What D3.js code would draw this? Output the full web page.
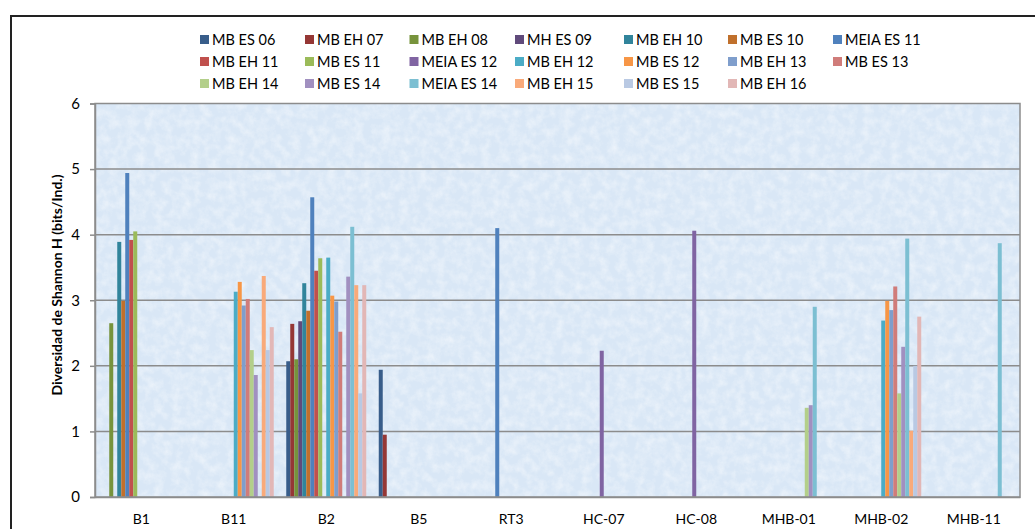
<!DOCTYPE html>
<html><head><meta charset="utf-8">
<script src="https://cdn.jsdelivr.net/npm/d3@7"></script>
<style>
html,body{margin:0;padding:0;background:#fff;}
svg{display:block;font-family:Lato,"Open Sans",sans-serif;}
</style></head>
<body><svg id="c" width="1035" height="529"></svg>
<script>
const categories = ["B1","B11","B2","B5","RT3","HC-07","HC-08","MHB-01","MHB-02","MHB-11"];
const seriesNames = ["MB ES 06","MB EH 07","MB EH 08","MH ES 09","MB EH 10","MB ES 10","MEIA ES 11",
  "MB EH 11","MB ES 11","MEIA ES 12","MB EH 12","MB ES 12","MB EH 13","MB ES 13",
  "MB EH 14","MB ES 14","MEIA ES 14","MB EH 15","MB ES 15","MB EH 16"];
const seriesColors = ["#385D8A","#953735","#77933C","#604A7B","#31849B","#C0702C","#4F81BD",
  "#C0504D","#9BBB59","#8064A2","#4BACC6","#F79646","#7F9ECC","#D07C7A",
  "#B3CF8A","#A190C0","#7CBFD2","#F9AA7A","#B9C9E3","#E2B7B6"];
const yTicks = [0,1,2,3,4,5,6];

//            B1    B11   B2    B5    RT3   HC-07 HC-08 MHB-01 MHB-02 MHB-11
const mbEs06   = [null, null, 2.07, 1.94, null, null, null, null, null, null];
const mbEh07   = [null, null, 2.64, 0.95, null, null, null, null, null, null];
const mbEh08   = [2.65, null, 2.10, null, null, null, null, null, null, null];
const mhEs09   = [null, null, 2.68, null, null, null, null, null, null, null];
const mbEh10   = [3.89, null, 3.26, null, null, null, null, null, null, null];
const mbEs10   = [2.99, null, 2.84, null, null, null, null, null, null, null];
const meiaEs11 = [4.94, null, 4.57, null, 4.10, null, null, null, null, null];
const mbEh11   = [3.92, null, 3.45, null, null, null, null, null, null, null];
const mbEs11   = [4.05, null, 3.64, null, null, null, null, null, null, null];
const meiaEs12 = [null, null, null, null, null, 2.23, 4.06, null, null, null];
const mbEh12   = [null, 3.13, 3.65, null, null, null, null, null, 2.69, null];
const mbEs12   = [null, 3.28, 3.07, null, null, null, null, null, 2.99, null];
const mbEh13   = [null, 2.92, 2.98, null, null, null, null, null, 2.85, null];
const mbEs13   = [null, 3.02, 2.52, null, null, null, null, null, 3.21, null];
const mbEh14   = [null, 2.24, null, null, null, null, null, 1.36, 1.58, null];
const mbEs14   = [null, 1.86, 3.36, null, null, null, null, 1.40, 2.29, null];
const meiaEs14 = [null, null, 4.12, null, null, null, null, 2.90, 3.94, 3.87];
const mbEh15   = [null, 3.37, 3.23, null, null, null, null, null, 1.01, null];
const mbEs15   = [null, 2.24, 1.58, null, null, null, null, null, 2.00, null];
const mbEh16   = [null, 2.59, 3.23, null, null, null, null, null, 2.75, null];

const seriesValues = [mbEs06,mbEh07,mbEh08,mhEs09,mbEh10,mbEs10,meiaEs11,mbEh11,mbEs11,meiaEs12,
  mbEh12,mbEs12,mbEh13,mbEs13,mbEh14,mbEs14,meiaEs14,mbEh15,mbEs15,mbEh16];

const svg = d3.select("#c");
const plot = {left:95, right:1020, top:103.5, bottom:497};

// defs: textured background
const defs = svg.append("defs");
const f = defs.append("filter").attr("id","tex").attr("x",0).attr("y",0).attr("width","100%").attr("height","100%");
f.append("feTurbulence").attr("type","fractalNoise").attr("baseFrequency","0.11").attr("numOctaves",4).attr("seed",3).attr("result","n");
f.append("feColorMatrix").attr("in","n").attr("type","matrix")
  .attr("values","0 0 0 0 1  0 0 0 0 1  0 0 0 0 1  1.4 0 0 0 -0.5").attr("result","w");
f.append("feComposite").attr("in","w").attr("in2","SourceGraphic").attr("operator","in");

// outer border
svg.append("rect").attr("x",11).attr("y",16).attr("width",1040).attr("height",540)
  .attr("fill","#fff").attr("stroke","#222").attr("stroke-width",2);

const x0 = d3.scaleBand().domain(categories).range([plot.left, plot.right]).paddingInner(0).paddingOuter(0);
const bw = x0.bandwidth();
const groupW = 80;
const x1 = d3.scaleBand().domain(seriesNames).range([(bw-groupW)/2, (bw+groupW)/2]).padding(0);
const y = d3.scaleLinear().domain([0,6]).range([plot.bottom, plot.top]);
const color = d3.scaleOrdinal().domain(seriesNames).range(seriesColors);

// plot background
svg.append("rect").attr("x",plot.left).attr("y",plot.top).attr("width",plot.right-plot.left).attr("height",plot.bottom-plot.top)
  .attr("fill","#D9E7F6");
svg.append("rect").attr("x",plot.left).attr("y",plot.top).attr("width",plot.right-plot.left).attr("height",plot.bottom-plot.top)
  .attr("fill","#D9E7F6").attr("filter","url(#tex)").attr("opacity",0.6);

// gridlines
svg.append("g").selectAll("line").data(yTicks.filter(d=>d>0 && d<6)).join("line")
  .attr("x1",plot.left).attr("x2",plot.right).attr("y1",d=>y(d)).attr("y2",d=>y(d))
  .attr("stroke","#8C8C8C").attr("stroke-width",1.5);

// bars
const flat = [];
seriesNames.forEach((s,i)=>{ seriesValues[i].forEach((v,j)=>{ if(v!=null) flat.push({s, c:categories[j], v}); }); });
svg.append("g").selectAll("rect").data(flat).join("rect")
  .attr("x",d=>x0(d.c)+x1(d.s)).attr("width",x1.bandwidth())
  .attr("y",d=>y(d.v)).attr("height",d=>y(0)-y(d.v))
  .attr("fill",d=>color(d.s));

// plot border
svg.append("rect").attr("x",plot.left).attr("y",plot.top).attr("width",plot.right-plot.left).attr("height",plot.bottom-plot.top)
  .attr("fill","none").attr("stroke","#8C8C8C").attr("stroke-width",1.5);

// y axis
const yAxis = d3.axisLeft(y).tickValues(yTicks).tickSize(5).tickPadding(10).tickFormat(d3.format("d"));
const ga = svg.append("g").attr("transform",`translate(${plot.left},0)`).call(yAxis);
ga.select(".domain").attr("stroke","#8C8C8C").attr("stroke-width",1.5);
ga.selectAll(".tick line").attr("stroke","#8C8C8C").attr("stroke-width",1.5);
ga.selectAll("text").attr("font-size",15).attr("fill","#000").attr("font-family","Lato,sans-serif");

// x axis
const xAxis = d3.axisBottom(x0).tickSize(0).tickPadding(17);
const gx = svg.append("g").attr("transform",`translate(0,${plot.bottom})`).call(xAxis);
gx.select(".domain").attr("stroke","#8C8C8C").attr("stroke-width",1.5);
gx.selectAll("text").attr("font-size",14).attr("fill","#000").attr("font-family","Lato,sans-serif");

// y title
svg.append("text").attr("transform","translate(62,285) rotate(-90)").attr("text-anchor","middle")
  .attr("font-size",14).attr("font-weight","bold").attr("fill","#000")
  .text("Diversidad de Shannon H (bits/Ind.)");

// legend
const colX = [200,305,409.5,515,624,728,833];
const rowY = [40,62,84];
const lg = svg.append("g").selectAll("g").data(seriesNames).join("g")
  .attr("transform",(d,i)=>`translate(${colX[i%7]},${rowY[Math.floor(i/7)]})`);
lg.append("rect").attr("x",0).attr("y",-5).attr("width",9).attr("height",9).attr("fill",d=>color(d));
lg.append("text").attr("x",12).attr("dy","0.35em")
  .attr("font-size",14.5).attr("fill","#000").text(d=>d);
</script></body></html>
